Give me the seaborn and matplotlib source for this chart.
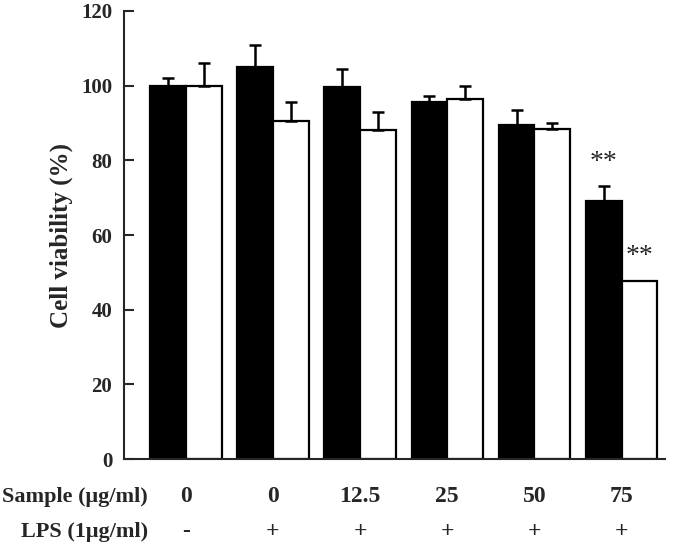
import numpy as np
import pandas as pd
import matplotlib
matplotlib.use("Agg")
import matplotlib.pyplot as plt
import matplotlib.transforms as mtransforms
import seaborn as sns

# Data
sample_labels = ["0", "0", "12.5", "25", "50", "75"]
lps_labels = ["-", "+", "+", "+", "+", "+"]
series_names = ["black", "white"]
black_values = [100.0, 105.0, 99.5, 95.5, 89.5, 69.0]
black_errors = [2.0, 6.0, 5.0, 1.7, 4.0, 4.0]
white_values = [100.0, 90.5, 88.0, 96.3, 88.5, 47.8]
white_errors = [6.0, 5.0, 5.0, 3.6, 1.5, 0.0]
star_marks = {("black", 5): "**", ("white", 5): "**"}

sns.set_style("ticks")
plt.rcParams["font.family"] = ["Liberation Serif", "DejaVu Serif"]
plt.rcParams["font.weight"] = "bold"

groups = [f"g{i}" for i in range(len(sample_labels))]
df = pd.DataFrame({
    "group": groups * 2,
    "series": ["black"] * len(groups) + ["white"] * len(groups),
    "value": black_values + white_values,
    "err": black_errors + white_errors,
})

fig = plt.figure(figsize=(6.85, 5.46), dpi=100)
ax = fig.add_axes([0.181, 0.159, 0.790, 0.821])

sns.barplot(data=df, x="group", y="value", hue="series", order=groups,
            hue_order=series_names, palette={"black": "black", "white": "white"},
            edgecolor="black", linewidth=1.6, width=0.82, errorbar=None,
            legend=False, ax=ax)

# upper-only error bars and significance marks, placed from the drawn bars
for si, name in enumerate(series_names):
    sub = df[df["series"] == name].reset_index(drop=True)
    patches = ax.patches[si * len(groups):(si + 1) * len(groups)]
    xs = [p.get_x() + p.get_width() / 2 for p in patches]
    errs = sub["err"].to_numpy()
    vals = sub["value"].to_numpy()
    mask = errs > 0
    ax.errorbar(np.array(xs)[mask], vals[mask],
                yerr=[np.zeros(mask.sum()), errs[mask]],
                fmt="none", ecolor="black", elinewidth=1.8, capsize=4.5,
                capthick=1.8, zorder=1)
    for gi in range(len(groups)):
        if (name, gi) in star_marks:
            ax.text(xs[gi], vals[gi] + errs[gi] + 4.7, star_marks[(name, gi)],
                    ha="center", va="baseline", fontsize=20, fontweight="normal")

ax.set_ylim(0, 120)
ax.set_yticks(np.arange(0, 121, 20))
ax.set_xlim(-0.71, 5.5)
ax.set_xticks(range(len(groups)))
ax.set_xticklabels([])
ax.tick_params(axis="x", length=0)
ax.tick_params(axis="y", labelsize=15, direction="in", length=7, width=1.5, pad=8.5)
ax.set_xlabel("")
ax.set_ylabel("Cell viability (%)", fontsize=18, fontweight="bold", labelpad=6)
for side in ["top", "right"]:
    ax.spines[side].set_visible(False)
for side in ["left", "bottom"]:
    ax.spines[side].set_linewidth(1.5)

# two label rows under the axis: sample dose and LPS
trans = mtransforms.blended_transform_factory(ax.transData, fig.transFigure)
row1 = 1 - 502 / 546
row2 = 1 - 537 / 546
for gi in range(len(groups)):
    ax.text(gi, row1, sample_labels[gi], transform=trans, ha="center",
            va="baseline", fontsize=17, fontweight="bold")
    ax.text(gi, row2, lps_labels[gi], transform=trans, ha="center",
            va="baseline", fontsize=17, fontweight="bold")
fig.text(148 / 685, row1, "Sample (\u03bcg/ml)", ha="right", va="baseline",
         fontsize=16, fontweight="bold")
fig.text(148 / 685, row2, "LPS (1\u03bcg/ml)", ha="right", va="baseline",
         fontsize=16, fontweight="bold")

fig.savefig("out.png", dpi=100)
